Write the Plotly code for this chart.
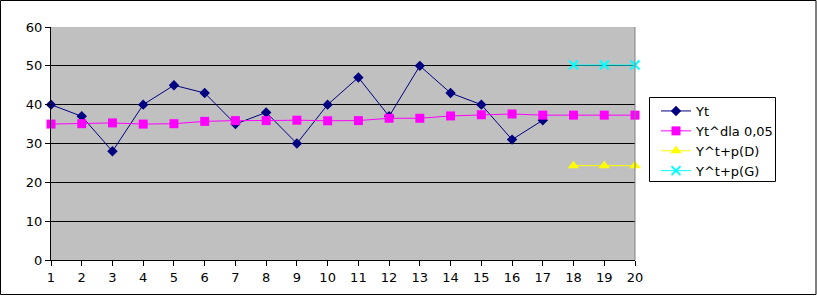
import plotly.graph_objects as go

x_obs = list(range(1, 18))
yt = [40, 37, 28, 40, 45, 43, 35, 38, 30, 40, 47, 37, 50, 43, 40, 31, 36]
x_all = list(range(1, 21))
yt_smooth = [35.0, 35.1, 35.3, 35.0, 35.1, 35.7, 35.9, 35.9, 36.0, 35.85, 35.9,
             36.5, 36.5, 37.1, 37.4, 37.6, 37.3, 37.3, 37.3, 37.3]
x_fc = [18, 19, 20]
y_low = [24.3, 24.3, 24.3]
y_high = [50.2, 50.2, 50.2]

W, H = 817, 296
L, R, T, B = 51, 182, 27, 36
pw, ph = W - L - R, H - T - B

font = dict(family="DejaVu Sans", size=13, color="black")

fig = go.Figure()
fig.add_trace(go.Scatter(x=x_obs, y=yt, name="Yt", mode="lines+markers",
                         cliponaxis=False,
                         line=dict(color="#000080", width=1),
                         marker=dict(symbol="diamond", size=8, color="#000080")))
fig.add_trace(go.Scatter(x=x_all, y=yt_smooth, name="Yt^dla 0,05", mode="lines+markers",
                         cliponaxis=False,
                         line=dict(color="#FF00FF", width=1),
                         marker=dict(symbol="square", size=9, color="#FF00FF")))
fig.add_trace(go.Scatter(x=x_fc, y=y_low, name="Y^t+p(D)", mode="lines+markers",
                         cliponaxis=False,
                         line=dict(color="#FFFF00", width=1),
                         marker=dict(symbol="triangle-up", size=10, color="#FFFF00")))
fig.add_trace(go.Scatter(x=x_fc, y=y_high, name="Y^t+p(G)", mode="lines+markers",
                         cliponaxis=False,
                         line=dict(color="#00FFFF", width=1),
                         marker=dict(symbol="x-thin-open", size=9,
                                     line=dict(color="#00FFFF", width=2))))

def px_x(p):
    return (p - L) / pw

def px_y(p):
    return (H - B - p) / ph

fig.update_layout(
    width=W, height=H,
    margin=dict(l=L, r=R, t=T, b=B),
    paper_bgcolor="white",
    plot_bgcolor="#C0C0C0",
    font=font,
    showlegend=True,
    legend=dict(x=px_x(656), y=px_y(96), xanchor="left", yanchor="top",
                borderwidth=0, bgcolor="rgba(0,0,0,0)",
                font=dict(family="DejaVu Sans", size=13, color="black"),
                tracegroupgap=0),
    xaxis=dict(range=[1, 20], tickmode="linear", tick0=1, dtick=1,
               showgrid=False, zeroline=False, showline=True, linecolor="black",
               linewidth=1, ticks="outside", ticklen=5, tickcolor="black",
               tickfont=font),
    yaxis=dict(range=[0, 60], tickmode="linear", tick0=0, dtick=10,
               showgrid=True, gridcolor="black", gridwidth=1, zeroline=False,
               showline=True, linecolor="black", linewidth=1,
               ticks="outside", ticklen=5, tickcolor="black", tickfont=font),
    shapes=[
        dict(type="line", xref="paper", yref="paper", x0=1, x1=1, y0=0, y1=1,
             line=dict(color="#808080", width=1)),
        dict(type="rect", xref="paper", yref="paper",
             x0=px_x(649.5), x1=px_x(775.5), y0=px_y(181.5), y1=px_y(97.5),
             line=dict(color="black", width=1), fillcolor="white", layer="below"),
        dict(type="rect", xref="paper", yref="paper",
             x0=px_x(0.5), x1=px_x(816), y0=px_y(294.5), y1=px_y(0.5),
             line=dict(color="black", width=1), layer="above"),
    ],
)

fig.write_html("out.html")
